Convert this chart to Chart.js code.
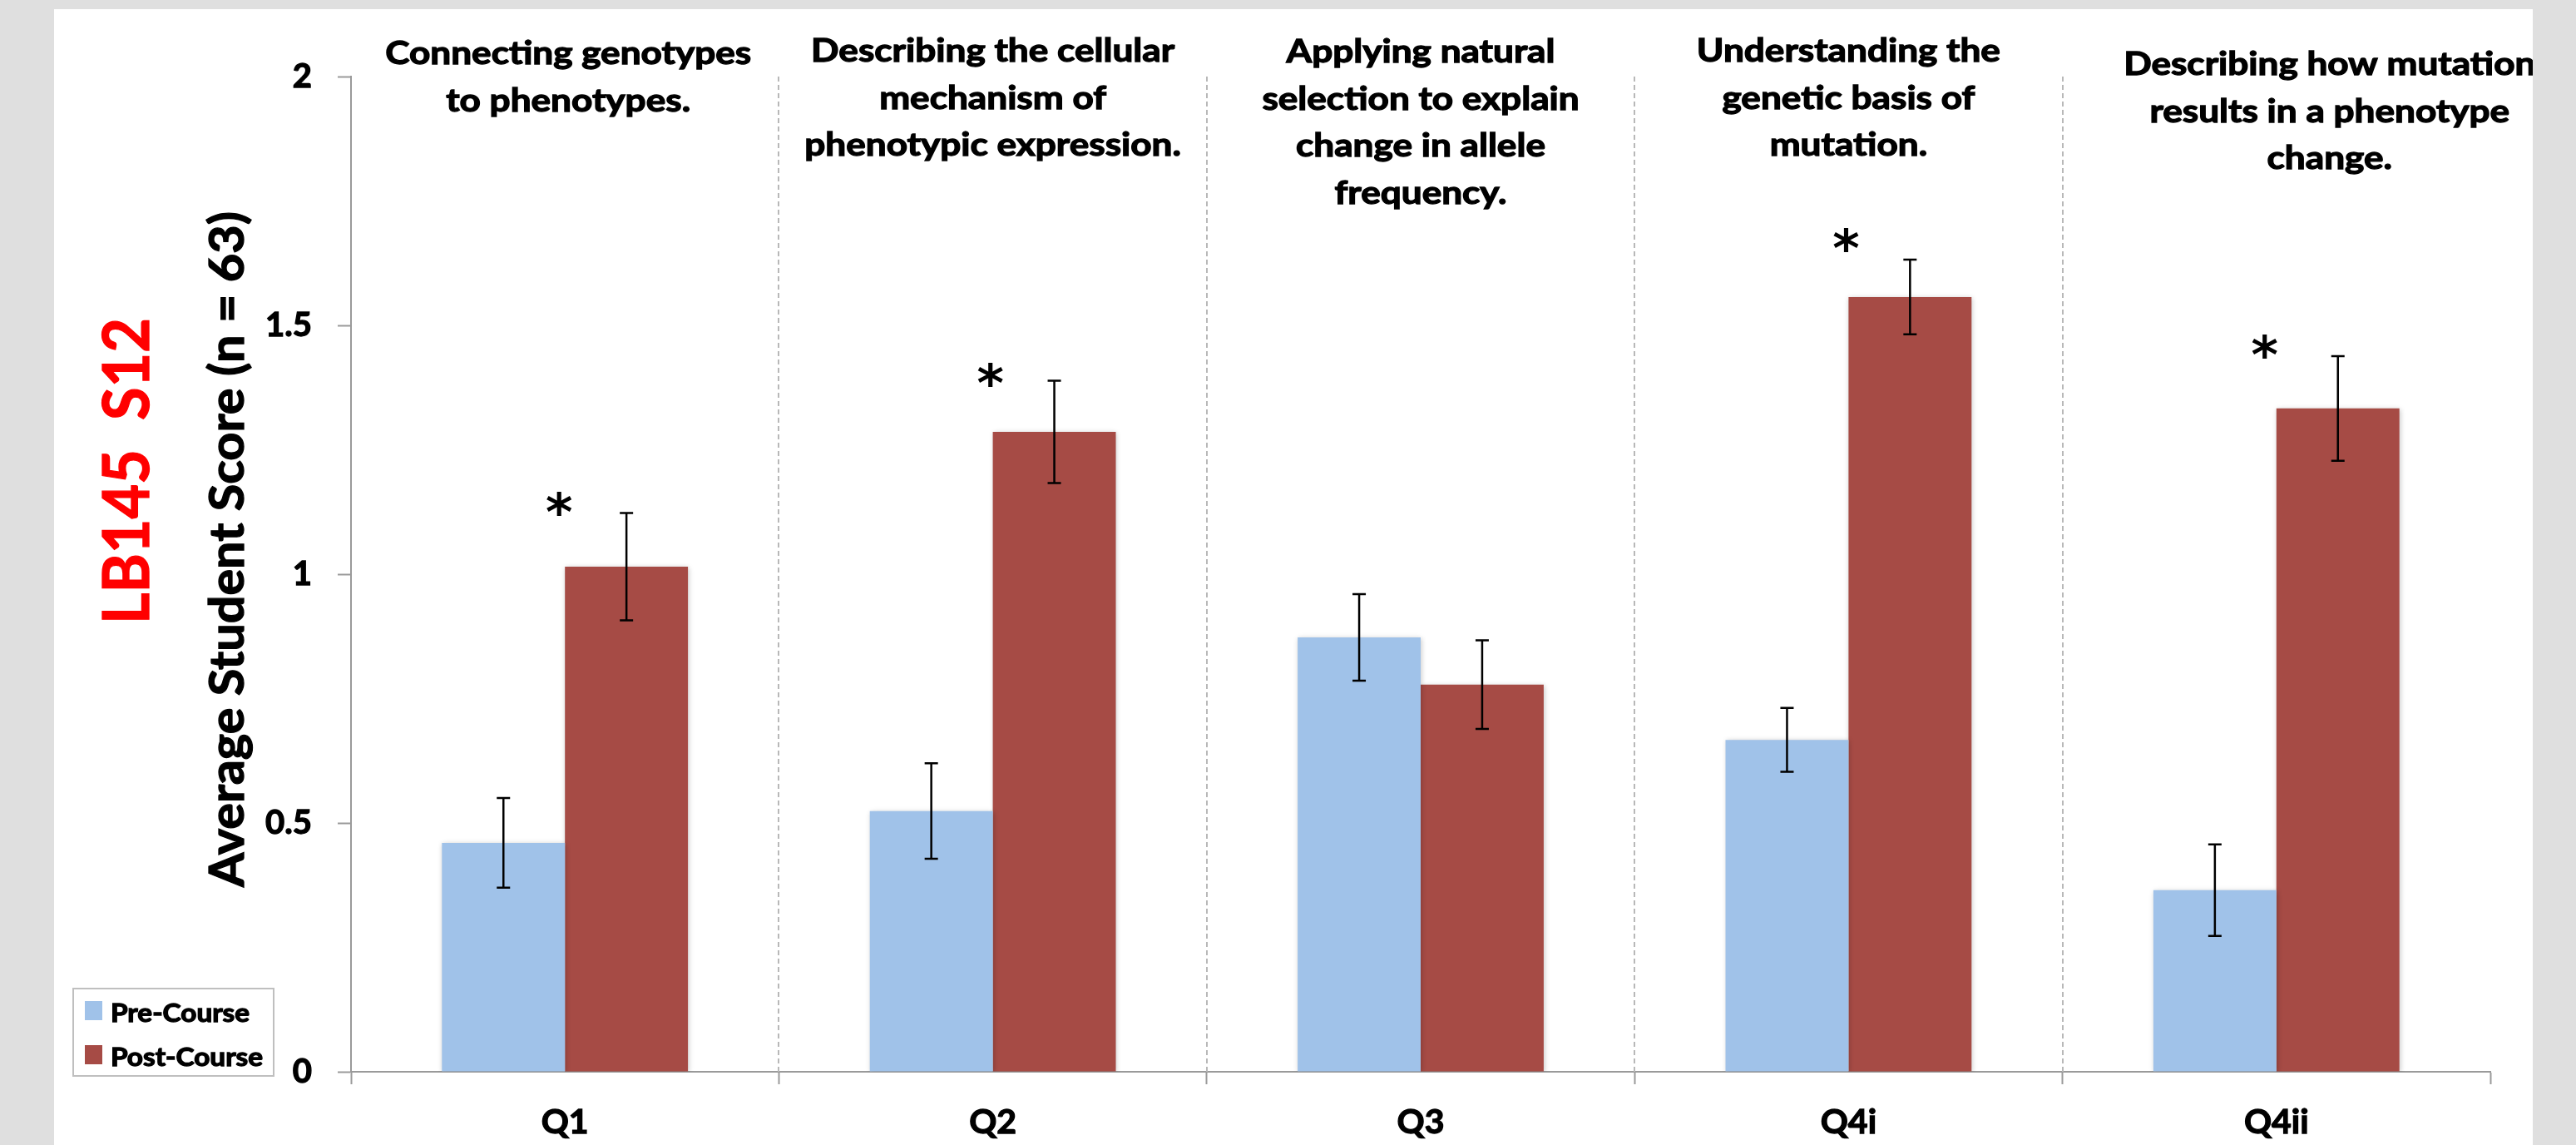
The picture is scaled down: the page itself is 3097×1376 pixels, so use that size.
<!DOCTYPE html>
<html>
<head>
<meta charset="utf-8">
<script src="https://cdn.jsdelivr.net/npm/chart.js@4.4.1/dist/chart.umd.min.js"></script>
<style>
  html, body { margin: 0; padding: 0; background: #dfdfdf; width: 3097px; height: 1376px; overflow: hidden; }
  #panel { position: absolute; left: 65px; top: 11px; width: 2980px; height: 1365px; background: #fff; overflow: hidden; }
  canvas { display: block; }
</style>
</head>
<body>
<div id="panel"><canvas id="scoreChart" width="2980" height="1365"></canvas></div>
<script>
// values
var questions = ["Q1", "Q2", "Q3", "Q4i", "Q4ii"];
var preScores = [0.46, 0.524, 0.873, 0.667, 0.365];
var postScores = [1.015, 1.286, 0.778, 1.557, 1.333];
var preErrors = [0.09, 0.096, 0.087, 0.064, 0.092];
var postErrors = [0.108, 0.103, 0.089, 0.075, 0.105];
var yTicks = [0, 0.5, 1, 1.5, 2];
var topics = [
  ["Connecting genotypes", "to phenotypes."],
  ["Describing the cellular", "mechanism of", "phenotypic expression."],
  ["Applying natural", "selection to explain", "change in allele", "frequency."],
  ["Understanding the", "genetic basis of", "mutation."],
  ["Describing how mutation", "results in a phenotype", "change."]
];
// height (score units) of the significance star, null = not significant
var starAt = [1.142, 1.401, null, 1.672, 1.458];

var FONT = "Lato, 'Open Sans', sans-serif";
var HEAVY = 1.3; // extra outline so the bold text looks like the original

function squeezed(ctx, text, x, y, sx, align) {
  ctx.save();
  ctx.translate(x, y);
  ctx.scale(sx, 1);
  ctx.textAlign = align;
  ctx.textBaseline = "alphabetic";
  ctx.lineWidth = HEAVY;
  ctx.strokeStyle = ctx.fillStyle;
  ctx.fillText(text, 0, 0);
  ctx.strokeText(text, 0, 0);
  ctx.restore();
}

// rotated text, baseline at bx, centred on cy, stretched to given length
function vertical(ctx, text, bx, cy, font, length, color) {
  ctx.save();
  ctx.font = font;
  ctx.fillStyle = color;
  var w = ctx.measureText(text).width;
  ctx.translate(bx, cy);
  ctx.rotate(-Math.PI / 2);
  squeezed(ctx, text, 0, 0, length / w, "center");
  ctx.restore();
}

var barShadow = {
  id: "barShadow",
  beforeDatasetsDraw: function(chart) {
    var ctx = chart.ctx;
    ctx.save();
    ctx.shadowColor = "rgba(0,0,0,0.22)";
    ctx.shadowBlur = 6;
    ctx.shadowOffsetX = 1;
    ctx.shadowOffsetY = 1;
  },
  afterDatasetsDraw: function(chart) {
    chart.ctx.restore();
  }
};

// dashed separators between the questions
var dividers = {
  id: "dividers",
  beforeDatasetsDraw: function(chart) {
    var ctx = chart.ctx, x = chart.scales.x, area = chart.chartArea;
    ctx.save();
    ctx.strokeStyle = "#b8b8b8";
    ctx.lineWidth = 2;
    ctx.setLineDash([6, 4]);
    for (var i = 0; i < questions.length - 1; i++) {
      var px = Math.round(x.getPixelForValue(i + 0.5));
      ctx.beginPath();
      ctx.moveTo(px, area.top);
      ctx.lineTo(px, area.bottom);
      ctx.stroke();
    }
    ctx.restore();
  }
};

var errorBars = {
  id: "errorBars",
  afterDatasetsDraw: function(chart) {
    var ctx = chart.ctx;
    var y = chart.scales.y;
    ctx.save();
    ctx.strokeStyle = "#000";
    ctx.lineWidth = 2.5;
    chart.data.datasets.forEach(function(ds, di) {
      chart.getDatasetMeta(di).data.forEach(function(bar, i) {
        var top = y.getPixelForValue(ds.data[i] + ds.errors[i]);
        var bot = y.getPixelForValue(ds.data[i] - ds.errors[i]);
        ctx.beginPath();
        ctx.moveTo(bar.x, top); ctx.lineTo(bar.x, bot);
        ctx.moveTo(bar.x - 8, top); ctx.lineTo(bar.x + 8, top);
        ctx.moveTo(bar.x - 8, bot); ctx.lineTo(bar.x + 8, bot);
        ctx.stroke();
      });
    });
    ctx.restore();
  }
};

var annotations = {
  id: "annotations",
  afterDraw: function(chart) {
    var ctx = chart.ctx;
    var x = chart.scales.x, y = chart.scales.y;

    // topic text above each question
    var titleDx = [4, 0, 0, 0, 64];
    var titleTop = [66, 63, 64, 63, 79];
    ctx.save();
    ctx.fillStyle = "#000";
    ctx.font = "bold 39px " + FONT;
    var sx = 440 / ctx.measureText("Connecting genotypes").width;
    topics.forEach(function(lines, i) {
      var cx = x.getPixelForValue(i) + titleDx[i];
      lines.forEach(function(line, k) {
        squeezed(ctx, line, cx, titleTop[i] + k * 56.5, sx, "center");
      });
    });
    ctx.restore();

    // significance stars
    var starDx = [-7, -3, 0, -3, -14];
    ctx.save();
    ctx.fillStyle = "#000";
    ctx.font = "bold 62px 'DejaVu Sans'";
    ctx.textAlign = "center";
    ctx.textBaseline = "alphabetic";
    var m = ctx.measureText("*");
    var shift = (m.actualBoundingBoxAscent - m.actualBoundingBoxDescent) / 2;
    starAt.forEach(function(v, i) {
      if (v === null) return;
      ctx.fillText("*", x.getPixelForValue(i) + starDx[i], y.getPixelForValue(v) + shift);
    });
    ctx.restore();

    // axis title and course label
    vertical(ctx, "Average Student Score (n = 63)", 228, 649, "bold 58px " + FONT, 812, "#000");
    vertical(ctx, "LB145  S12", 114, 555, "bold 77px " + FONT, 368, "#ff0000");

    // legend box
    ctx.save();
    ctx.strokeStyle = "#bfbfbf";
    ctx.lineWidth = 2;
    ctx.strokeRect(23, 1177, 241, 105);
    ctx.font = "bold 31px " + FONT;
    var lsx = 183 / ctx.measureText("Post-Course").width;
    var rows = [1192, 1245];
    chart.data.datasets.forEach(function(ds, di) {
      ctx.fillStyle = ds.backgroundColor;
      ctx.fillRect(37, rows[di], 21, 23);
      ctx.fillStyle = "#000";
      squeezed(ctx, ds.label, 68, rows[di] + 25, lsx, "left");
    });
    ctx.restore();
  }
};

new Chart(document.getElementById("scoreChart").getContext("2d"), {
  type: "bar",
  data: {
    labels: questions,
    datasets: [
      { label: "Pre-Course", data: preScores, errors: preErrors, backgroundColor: "#a0c2e9" },
      { label: "Post-Course", data: postScores, errors: postErrors, backgroundColor: "#a64b45" }
    ]
  },
  options: {
    responsive: false,
    animation: false,
    events: [],
    layout: { padding: { top: 81, right: 51, left: 0, bottom: 0 } },
    datasets: { bar: { categoryPercentage: 0.575, barPercentage: 1.0 } },
    plugins: {
      legend: { display: false },
      tooltip: { enabled: false }
    },
    scales: {
      x: {
        grid: {
          offset: true,
          drawOnChartArea: false,
          tickColor: "#9a9a9a",
          tickLength: 15,
          tickWidth: 2
        },
        border: { color: "#9a9a9a", width: 2 },
        ticks: {
          color: "#000",
          font: { family: FONT, weight: "bold", size: 41 },
          padding: 21,
          textStrokeColor: "#000",
          textStrokeWidth: HEAVY
        },
        afterFit: function(scale) { scale.height = 88; }
      },
      y: {
        min: 0,
        max: 2,
        afterBuildTicks: function(scale) {
          scale.ticks = yTicks.map(function(v) { return { value: v }; });
        },
        grid: { drawOnChartArea: false, tickLength: 16, tickColor: "#9a9a9a", tickWidth: 2 },
        border: { color: "#9a9a9a", width: 2 },
        ticks: {
          color: "#000",
          font: { family: FONT, weight: "bold", size: 40 },
          padding: 31,
          textStrokeColor: "#000",
          textStrokeWidth: HEAVY,
          callback: function(v) { return String(v); }
        },
        afterFit: function(scale) { scale.width = 357; }
      }
    }
  },
  plugins: [dividers, barShadow, errorBars, annotations]
});
</script>
</body>
</html>
